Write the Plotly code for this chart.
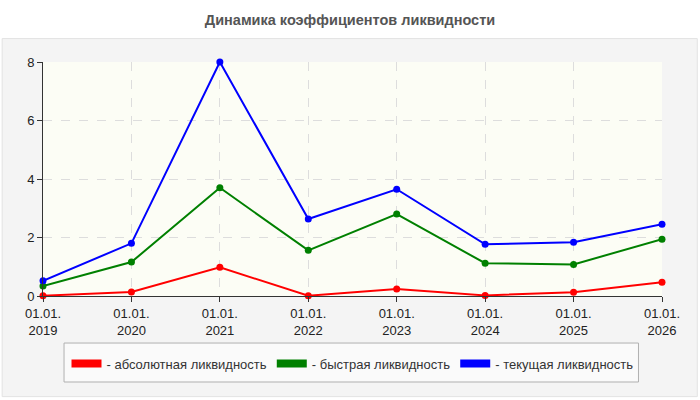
import plotly.graph_objects as go

TITLE = 'Динамика коэффициентов ликвидности'
years = [2019, 2020, 2021, 2022, 2023, 2024, 2025, 2026]
tick_labels = [f'01.01.<br>{y}' for y in years]

absolute_liq = [0.01, 0.14, 0.98, 0.01, 0.24, 0.02, 0.13, 0.47]
quick_liq = [0.34, 1.16, 3.70, 1.56, 2.80, 1.12, 1.08, 1.94]
current_liq = [0.52, 1.80, 8.00, 2.63, 3.65, 1.77, 1.84, 2.45]

series = [
    ('- абсолютная ликвидность', absolute_liq, '#ff0000'),
    ('- быстрая ликвидность', quick_liq, '#008000'),
    ('- текущая ликвидность', current_liq, '#0000ff'),
]

FONT = 'Liberation Sans, Arial, sans-serif'

fig = go.Figure()
for name, vals, color in series:
    # the line itself, no legend entry
    fig.add_trace(go.Scatter(x=years, y=vals, mode='lines+markers', showlegend=False,
                             line=dict(color=color, width=2), marker=dict(color=color, size=7),
                             cliponaxis=False))
    # fat swatch for the legend
    fig.add_trace(go.Scatter(x=[None], y=[None], mode='lines', name=name,
                             line=dict(color=color, width=8)))

# grey panel behind the chart
fig.add_shape(type='rect', xref='paper', yref='paper', x0=-0.066, x1=1.057, y0=-0.43, y1=1.10,
              fillcolor='#f4f4f4', line=dict(color='#e2e2e2', width=1), layer='below')
# pale plot area on top of the panel
fig.add_shape(type='rect', xref='paper', yref='paper', x0=0, x1=1, y0=0, y1=1,
              fillcolor='#fcfdf5', line=dict(width=0), layer='below')
# legend frame (taller than plotly's own)
fig.add_shape(type='rect', xref='paper', yref='paper', x0=0.034, x1=0.962, y0=-0.3675, y1=-0.201,
              fillcolor='#fafafa', line=dict(color='#b0b0b0', width=1), layer='below')

fig.update_layout(
    width=700, height=400, autosize=False,
    margin=dict(l=43, r=38, t=62, b=104),
    paper_bgcolor='white', plot_bgcolor='rgba(0,0,0,0)',
    font=dict(family=FONT, size=13, color='#222'),
    title=dict(text=f'<b>{TITLE}</b>', x=0.5, xanchor='center', y=0.95, yanchor='middle',
               font=dict(family=FONT, size=14.5, color='#555')),
    legend=dict(orientation='h', x=0.5, xanchor='center', y=-0.225, yanchor='top',
                bgcolor='rgba(0,0,0,0)', borderwidth=0,
                font=dict(family=FONT, size=13, color='#333'), itemwidth=30),
)
fig.update_xaxes(range=[2019, 2026], tickvals=years, ticktext=tick_labels,
                 showline=True, linecolor='#333', linewidth=1, ticks='outside', ticklen=5,
                 tickcolor='#333', showgrid=True, gridcolor='#dddddd', griddash='dash',
                 zeroline=False, tickfont=dict(size=13, color='#222'))
fig.update_yaxes(range=[0, 8], tickvals=[0, 2, 4, 6, 8],
                 showline=True, linecolor='#333', linewidth=1, ticks='outside', ticklen=5,
                 tickcolor='#333', showgrid=True, gridcolor='#dddddd', griddash='dash',
                 zeroline=False, tickfont=dict(size=13, color='#222'))

fig.write_html('out.html', config={'displayModeBar': False},
               post_script="document.body.style.margin='0';")
